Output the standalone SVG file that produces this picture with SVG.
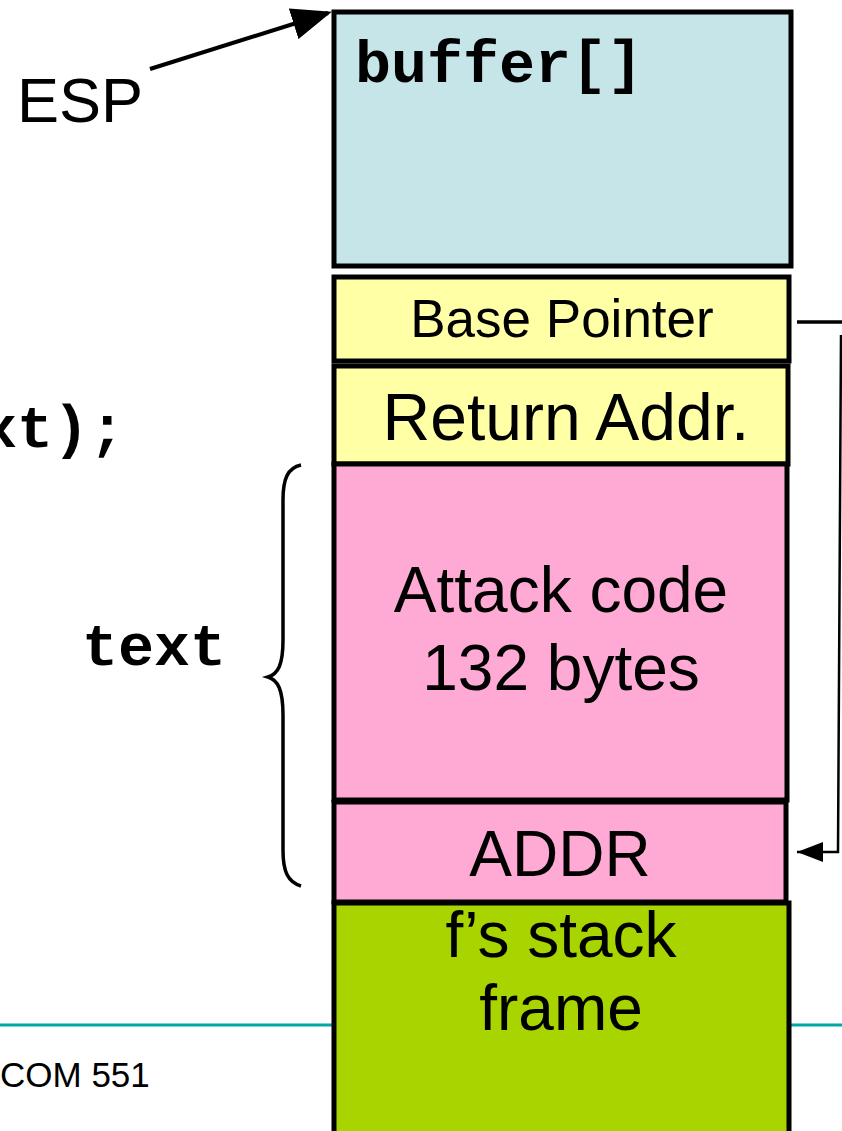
<svg xmlns="http://www.w3.org/2000/svg" width="842" height="1131" viewBox="0 0 842 1131">
<style>
.box{stroke:#000;stroke-width:5}
.sans{font-family:"Liberation Sans",Arial,sans-serif;fill:#000}
.mono{font-family:"Liberation Mono","Courier New",monospace;font-weight:bold;fill:#000}
.line{stroke:#000;fill:none}
</style>
<defs>
<marker id="ah" markerWidth="10" markerHeight="8" refX="9" refY="4" orient="auto" markerUnits="strokeWidth">
<path d="M0,0 L10,4 L0,8 Z" fill="#000"/>
</marker>
<marker id="ah2" markerWidth="26" markerHeight="20" refX="26" refY="10" orient="auto" markerUnits="userSpaceOnUse" viewBox="0 0 26 20">
<path d="M0,0 L26,10 L0,20 Z" fill="#000"/>
</marker>
</defs>
<rect width="842" height="1131" fill="#fff"/>
<g id="footer">
<line x1="0" y1="1025" x2="842" y2="1025" stroke="#00a8a8" stroke-width="3"/>
<text class="sans" x="0" y="1087" font-size="35">COM 551</text>
</g>
<g id="code">
<text class="mono" x="-19" y="447" font-size="60">xt);</text>
<text class="mono" x="82" y="665" font-size="60">text</text>
</g>
<g id="buffer">
<rect class="box" x="334" y="12" width="457" height="254" fill="#c5e5e9"/>
<text class="mono" x="355" y="82" font-size="60">buffer[]</text>
</g>
<g id="basepointer">
<rect class="box" x="334" y="277" width="455" height="84" fill="#ffffa6"/>
<text class="sans" x="562" y="337" font-size="53" text-anchor="middle">Base Pointer</text>
</g>
<g id="returnaddr">
<rect class="box" x="334" y="366" width="454" height="98" fill="#ffffa6"/>
<text class="sans" x="566" y="440" font-size="66" text-anchor="middle">Return Addr.</text>
</g>
<g id="attack">
<rect class="box" x="334" y="464" width="453" height="336" fill="#ffaad4"/>
<text class="sans" x="561" y="612" font-size="64" text-anchor="middle">Attack code</text>
<text class="sans" x="561" y="690" font-size="64" text-anchor="middle">132 bytes</text>
</g>
<g id="addr">
<rect class="box" x="334" y="802" width="452" height="100" fill="#ffaad4"/>
<text class="sans" x="560" y="876" font-size="64" text-anchor="middle">ADDR</text>
</g>
<g id="frame">
<rect class="box" x="334" y="903" width="455" height="240" fill="#a8d400"/>
<text class="sans" x="561" y="957" font-size="64" text-anchor="middle">f’s stack</text>
<text class="sans" x="561" y="1030" font-size="64" text-anchor="middle">frame</text>
</g>
<g id="esp">
<text class="sans" x="17" y="122" font-size="63">ESP</text>
</g>
<g id="connectors">
<line class="line" x1="150" y1="69" x2="328" y2="13" stroke-width="4" marker-end="url(#ah)"/>
<path class="line" d="M841,335 L838,852 H797" stroke-width="2.5" marker-end="url(#ah2)"/>
<path class="line" d="M797,322 H842" stroke-width="3.5"/>
<path class="line" d="M301,465 C288,468 283,478 283,500 L283,640 C283,665 278,674 268,677 C278,680 283,690 283,715 L283,850 C283,872 288,882 301,886" stroke-width="3.5"/>
</g>
</svg>
